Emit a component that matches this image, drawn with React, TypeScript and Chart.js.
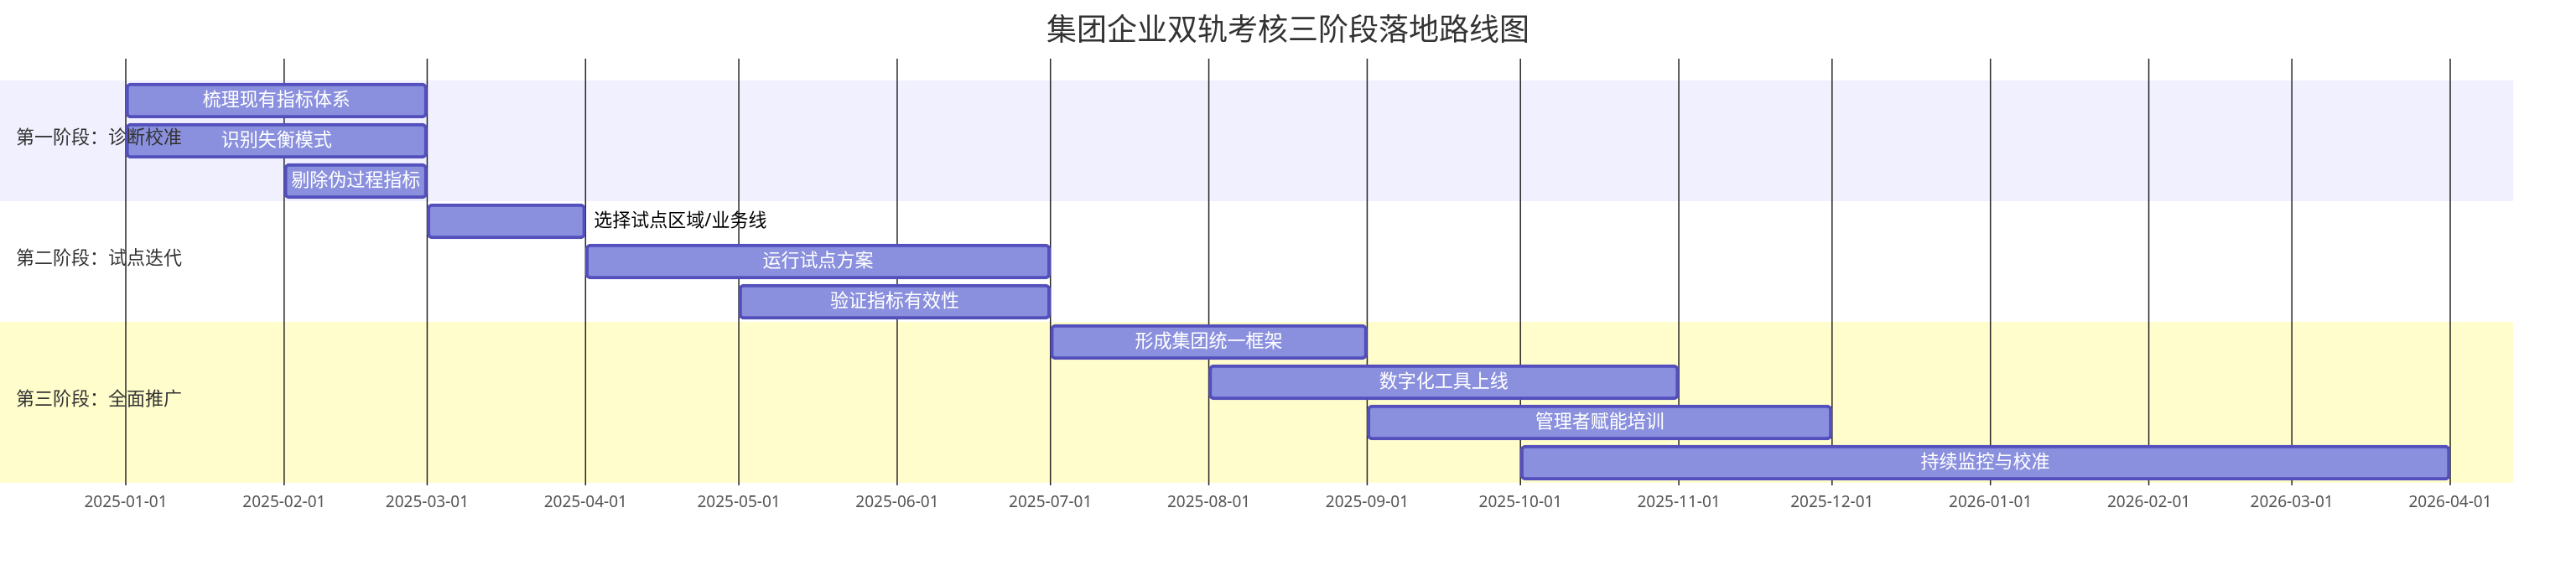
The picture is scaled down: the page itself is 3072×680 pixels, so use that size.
import React, { useEffect, useRef } from "react";
import { Chart, registerables } from "chart.js";

Chart.register(...registerables);

const TITLE = "集团企业双轨考核三阶段落地路线图";
const SECTION_NAMES = ["第一阶段：诊断校准", "第二阶段：试点迭代", "第三阶段：全面推广"];
const SECTION_COLORS = ["#f0f0ff", "#ffffff", "#fffdcc"];
const TASK_NAMES = [
  "梳理现有指标体系",
  "识别失衡模式",
  "剔除伪过程指标",
  "选择试点区域/业务线",
  "运行试点方案",
  "验证指标有效性",
  "形成集团统一框架",
  "数字化工具上线",
  "管理者赋能培训",
  "持续监控与校准",
];
const TASK_SECTIONS = [0, 0, 0, 1, 1, 1, 2, 2, 2, 2];
const TASK_STARTS = [
  "2025-01-01", "2025-01-01", "2025-02-01", "2025-03-01", "2025-04-01",
  "2025-05-01", "2025-07-01", "2025-08-01", "2025-09-01", "2025-10-01",
];
const TASK_ENDS = [
  "2025-03-01", "2025-03-01", "2025-03-01", "2025-04-01", "2025-07-01",
  "2025-07-01", "2025-09-01", "2025-11-01", "2025-12-01", "2026-04-01",
];
const TICK_LABELS = [
  "2025-01-01", "2025-02-01", "2025-03-01", "2025-04-01", "2025-05-01",
  "2025-06-01", "2025-07-01", "2025-08-01", "2025-09-01", "2025-10-01",
  "2025-11-01", "2025-12-01", "2026-01-01", "2026-02-01", "2026-03-01",
  "2026-04-01",
];
const AXIS_START = "2025-01-01";
const AXIS_END = "2026-04-01";

const FONT = '"Noto Sans", "Noto Sans CJK SC", sans-serif';

const dayOf = (s: string) =>
  (Date.parse(s + "T00:00:00Z") - Date.parse(AXIS_START + "T00:00:00Z")) / 86400000;

const ganttPlugin = {
  id: "ganttDecor",
  beforeDatasetsDraw(chart: any) {
    const { ctx, chartArea, scales } = chart;
    const x = scales.x;
    const y = scales.y;
    const n = TASK_NAMES.length;
    const rowH = chartArea.height / n;
    const bandRight = chart.width - 75;
    ctx.save();
    for (let i = 0; i < n; i++) {
      const cy = y.getPixelForValue(i);
      ctx.fillStyle = SECTION_COLORS[TASK_SECTIONS[i] % SECTION_COLORS.length];
      ctx.fillRect(0, cy - rowH / 2, bandRight, rowH);
    }
    ctx.strokeStyle = "#262626";
    ctx.lineWidth = 1.5;
    x.ticks.forEach((t: any) => {
      const px = x.getPixelForValue(t.value);
      ctx.beginPath();
      ctx.moveTo(px, 70);
      ctx.lineTo(px, chartArea.bottom + 3);
      ctx.stroke();
    });
    ctx.restore();
  },
  afterDatasetsDraw(chart: any) {
    const { ctx, chartArea, scales } = chart;
    const y = scales.y;
    const n = TASK_NAMES.length;
    const rowH = chartArea.height / n;
    const meta = chart.getDatasetMeta(0);
    ctx.save();
    ctx.font = `22px ${FONT}`;
    ctx.textBaseline = "middle";
    meta.data.forEach((bar: any, i: number) => {
      const left = Math.min(bar.x, bar.base);
      const right = Math.max(bar.x, bar.base);
      const w = right - left;
      const text = TASK_NAMES[i];
      const tw = ctx.measureText(text).width;
      if (tw + 10 < w) {
        ctx.fillStyle = "#ffffff";
        ctx.textAlign = "center";
        ctx.fillText(text, (left + right) / 2, bar.y);
      } else {
        ctx.fillStyle = "#000000";
        ctx.textAlign = "left";
        ctx.fillText(text, right + 10, bar.y);
      }
    });
    ctx.fillStyle = "#333333";
    ctx.textAlign = "left";
    SECTION_NAMES.forEach((name, s) => {
      const rows = TASK_SECTIONS.map((v, i) => (v === s ? i : -1)).filter((i) => i >= 0);
      if (!rows.length) return;
      const top = y.getPixelForValue(rows[0]) - rowH / 2;
      const bottom = y.getPixelForValue(rows[rows.length - 1]) + rowH / 2;
      ctx.fillText(name, 19, (top + bottom) / 2 - 3);
    });
    ctx.restore();
  },
};

export default function App() {
  const ref = useRef<HTMLCanvasElement | null>(null);
  useEffect(() => {
    if (!ref.current) return;
    const chart = new Chart(ref.current, {
      type: "bar",
      data: {
        labels: TASK_NAMES,
        datasets: [
          {
            data: TASK_NAMES.map((_, i) => [dayOf(TASK_STARTS[i]), dayOf(TASK_ENDS[i])]) as any,
            backgroundColor: "#8a90dd",
            borderColor: "#534fbc",
            borderWidth: 4,
            borderRadius: 6,
            borderSkipped: false,
            barThickness: 42,
          },
        ],
      },
      options: {
        indexAxis: "y",
        responsive: false,
        animation: false,
        devicePixelRatio: 1,
        layout: { padding: { left: 150, right: 150, top: 0, bottom: 64 } },
        plugins: {
          legend: { display: false },
          tooltip: { enabled: false },
          title: {
            display: true,
            text: TITLE,
            color: "#333333",
            font: { family: FONT, size: 36, weight: "normal" },
            padding: { top: 16, bottom: 36.8 },
          },
        },
        scales: {
          y: { type: "category", display: false, offset: true },
          x: {
            type: "linear",
            min: dayOf(AXIS_START),
            max: dayOf(AXIS_END),
            grid: { display: false, drawTicks: false, tickLength: 0 },
            border: { display: false },
            afterBuildTicks: (scale: any) => {
              scale.ticks = TICK_LABELS.map((d) => ({ value: dayOf(d) }));
            },
            afterFit: (scale: any) => {
              scale.height = 40;
            },
            ticks: {
              autoSkip: false,
              maxRotation: 0,
              padding: 12,
              color: "#555555",
              font: { family: FONT, size: 19 },
              callback: (_v: any, idx: number) => TICK_LABELS[idx],
            },
          },
        },
      },
      plugins: [ganttPlugin],
    });
    return () => chart.destroy();
  }, []);
  return (
    <div style={{ position: "absolute", left: 0, top: 0, width: 3072, height: 680, background: "#fff" }}>
      <canvas ref={ref} width={3072} height={680} style={{ display: "block" }} />
    </div>
  );
}
